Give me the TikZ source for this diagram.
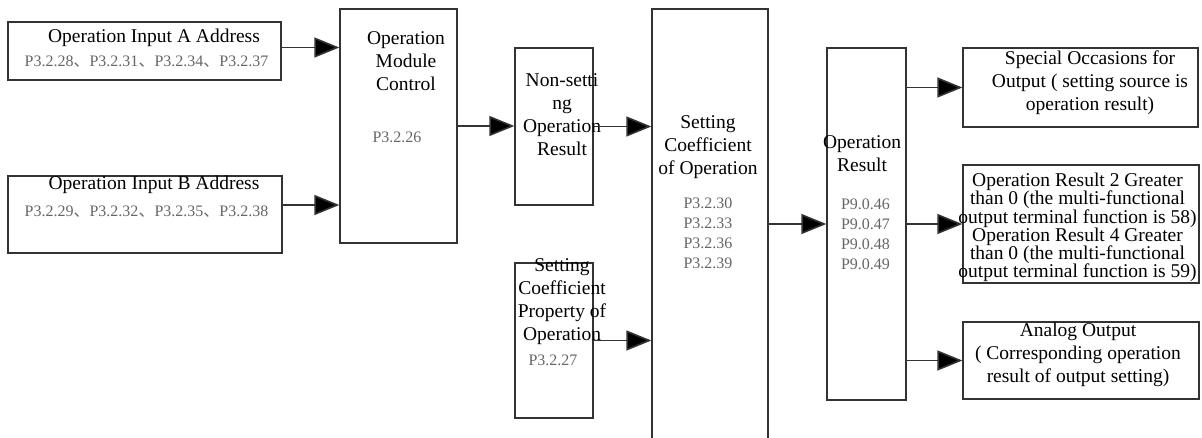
\documentclass[tikz,border=0pt]{standalone}
\usepackage{fontspec}
\setmainfont{Liberation Serif}
\newfontfamily\seriffont{Liberation Serif}
\newfontfamily\cjkfont{Noto Sans CJK SC}
\usetikzlibrary{arrows.meta}
\newcommand{\dun}{{\cjkfont 、}}
\begin{document}
\begin{tikzpicture}[x=1pt,y=-1pt,
 box/.style={draw=black!80,line width=1.3pt,rectangle,inner sep=0pt},
 txt/.style={inner sep=0pt,align=center,font=\seriffont\fontsize{19.5}{23}\selectfont},
 code/.style={inner sep=0pt,align=center,text=black!60,font=\seriffont\fontsize{16}{20}\selectfont},
 arr/.style={line width=1.6pt,draw=black!80,-{Triangle[length=25pt,width=20pt,fill=black]}}]
\useasboundingbox (0,0) rectangle (1202,438);
% boxes
\node[box,minimum width=273pt,minimum height=58pt] (A) at (144.5,51) {};
\node[box,minimum width=274pt,minimum height=77pt] (B) at (145,214.5) {};
\node[box,minimum width=117pt,minimum height=234pt] (ctrl) at (398.5,126) {};
\node[box,minimum width=78pt,minimum height=157pt] (nons) at (554,126.5) {};
\node[box,minimum width=116pt,minimum height=436pt] (scoef) at (710,227) {};
\node[box,minimum width=78pt,minimum height=155pt] (prop) at (554,340.5) {};
\node[box,minimum width=79pt,minimum height=352pt] (res) at (866.5,224) {};
\node[box,minimum width=235pt,minimum height=79pt] (spec) at (1080.5,87.5) {};
\node[box,minimum width=236pt,minimum height=118pt] (mid) at (1081,224) {};
\node[box,minimum width=236pt,minimum height=77pt] (ana) at (1081,360.5) {};
% texts
\node[txt] (tA) at (154,38) {Operation Input A Address};
\node[code] (cA) at (146.5,62) {P3.2.28\dun P3.2.31\dun P3.2.34\dun P3.2.37};
\node[txt] (tB) at (154,185) {Operation Input B Address};
\node[code] (cB) at (146.5,212) {P3.2.29\dun P3.2.32\dun P3.2.35\dun P3.2.38};
\node[txt] (tctrl) at (406,61.5) {Operation\\Module\\Control};
\node[code] (cctrl) at (397,137) {P3.2.26};
\node[txt] (tnons) at (562,114.5) {Non-setti\\ng\\Operation\\Result};
\node[txt] (tscoef) at (708,147) {Setting\\Coefficient\\of Operation};
\node[code] (cscoef) at (708,233.5) {P3.2.30\\P3.2.33\\P3.2.36\\P3.2.39};
\node[txt] (tprop) at (562,302) {Setting\\Coefficient\\Property of\\Operation};
\node[code] (cprop) at (553,360) {P3.2.27};
\node[txt] (tres) at (862,153.5) {Operation\\Result};
\node[code] (cres) at (865.5,234.5) {P9.0.46\\P9.0.47\\P9.0.48\\P9.0.49};
\node[txt] (tspec) at (1090,83) {Special Occasions for\\Output ( setting source is\\operation result)};
\node[txt,font=\seriffont\fontsize{19.5}{18.2}\selectfont] (tmid) at (1077.5,227.5) {Operation Result 2 Greater\\than 0 (the multi-functional\\output terminal function is 58)\\Operation Result 4 Greater\\than 0 (the multi-functional\\output terminal function is 59)};
\node[txt] (tana) at (1078,355) {Analog Output\\( Corresponding operation\\result of output setting)};
% connectors
\draw[arr] ([yshift=3.5pt]A.east) -- ([yshift=3.5pt]A.east -| ctrl.west);
\draw[arr] ([yshift=9.5pt]B.east) -- ([yshift=9.5pt]B.east -| ctrl.west);
\draw[arr] (ctrl.east) -- (ctrl.east -| nons.west);
\draw[arr] (nons.east) -- (nons.east -| scoef.west);
\draw[arr] (prop.east) -- (prop.east -| scoef.west);
\draw[arr] (scoef.east |- res.west) -- (res.west);
\draw[arr] (res.east |- spec.west) -- (spec.west);
\draw[arr] (res.east |- mid.west) -- (mid.west);
\draw[arr] (res.east |- ana.west) -- (ana.west);
\end{tikzpicture}
\end{document}
